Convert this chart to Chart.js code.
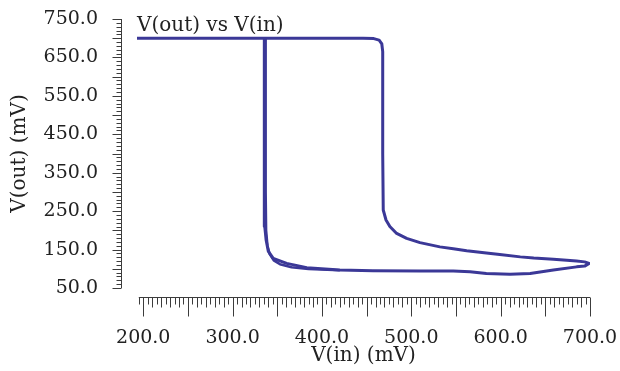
<!DOCTYPE html>
<html>
<head>
<meta charset="utf-8">
<script src="https://cdn.jsdelivr.net/npm/chart.js@4.4.1/dist/chart.umd.min.js"></script>
<style>
  html, body { margin: 0; padding: 0; background: #fff; }
  #wrap { width: 620px; height: 371px; position: relative; }
</style>
</head>
<body>
<div id="wrap"><canvas id="chart"></canvas></div>
<script>
// swept transfer curve (mV)
const vin = [193, 446, 458, 464, 467, 468, 468, 468.6, 471.7, 476, 483.6, 494.8, 509.7, 532, 547, 562, 584, 599, 622, 637, 659, 674, 685, 694, 699,
  694, 685, 659, 633, 610.5, 584, 565.7, 547, 510, 457, 420, 383, 360.5, 345.5, 340, 337.5, 336, 335.5, 335.5];
const vout = [700, 700, 699, 695, 685, 665, 400, 253, 227, 210, 192, 179, 168, 157, 152, 147, 141, 137, 131, 128, 125, 122, 120, 118, 114,
  107, 105, 97, 88, 86, 88, 92.5, 94, 94, 95, 97, 103, 114, 127, 145, 175, 210, 400, 700];

// second pass down the left branch, drawn just beside the first one
const vinBack = [337, 337, 337.5, 339, 341.5, 346, 353, 366, 385, 420];
const voutBack = [700, 300, 200, 160, 138, 122, 112, 104, 99.5, 96.5];

const xTicks = [200, 300, 400, 500, 600, 700];
const yTicks = [50, 150, 250, 350, 450, 550, 650, 750];
const titleText = 'V(out) vs V(in)';

const points = vin.map((x, i) => ({ x: x, y: vout[i] }));
const pointsBack = vinBack.map((x, i) => ({ x: x, y: voutBack[i] }));
const lineColor = '#3b3897';
const textColor = '#222';
const font = { family: '"DejaVu Serif", serif', size: 19 };
const titleFont = { family: '"DejaVu Serif", serif', size: 20 };

// minor tick marks + detached axis lines, placed with the chart's own scales
const axisMarks = {
  id: 'axisMarks',
  afterDraw(chart) {
    const { ctx, chartArea, scales } = chart;
    const xs = scales.x, ys = scales.y;
    ctx.save();
    ctx.strokeStyle = '#3c3c3c';
    ctx.lineWidth = 1;

    // y axis, left of the plot
    const ax = Math.round(chartArea.left - 16) + 0.5;
    ctx.beginPath();
    ctx.moveTo(ax, ys.getPixelForValue(750));
    ctx.lineTo(ax, ys.getPixelForValue(50));
    for (let v = 50; v <= 750; v += 10) {
      const y = Math.round(ys.getPixelForValue(v)) + 0.5;
      const len = v % 50 === 0 ? 9 : 5;
      ctx.moveTo(ax, y);
      ctx.lineTo(ax - len, y);
    }
    ctx.stroke();

    // x axis, below the plot
    const ay = Math.round(chartArea.bottom + 9) + 0.5;
    ctx.beginPath();
    ctx.moveTo(xs.getPixelForValue(195), ay);
    ctx.lineTo(xs.getPixelForValue(700), ay);
    for (let v = 195; v <= 700; v += 5) {
      const x = Math.round(xs.getPixelForValue(v)) + 0.5;
      const len = v % 50 === 0 ? 19 : (v % 10 === 0 ? 10 : 7);
      ctx.moveTo(x, ay);
      ctx.lineTo(x, ay + len);
    }
    ctx.stroke();

    // trace name in the top-left corner of the plot
    ctx.fillStyle = textColor;
    ctx.font = titleFont.size + 'px ' + titleFont.family;
    ctx.textBaseline = 'middle';
    ctx.textAlign = 'left';
    ctx.fillText(titleText, chartArea.left, 26);
    ctx.restore();
  }
};

new Chart(document.getElementById('chart'), {
  type: 'scatter',
  data: {
    datasets: [{
      label: titleText,
      data: points,
      showLine: true,
      borderColor: lineColor,
      borderWidth: 3,
      borderJoinStyle: 'round',
      pointRadius: 0,
      tension: 0,
      fill: false
    }, {
      label: titleText + ' (return)',
      data: pointsBack,
      showLine: true,
      borderColor: lineColor,
      borderWidth: 2.5,
      borderJoinStyle: 'round',
      pointRadius: 0,
      tension: 0,
      fill: false
    }]
  },
  options: {
    responsive: true,
    maintainAspectRatio: false,
    animation: false,
    layout: { padding: { top: 19, right: 30, left: 0, bottom: 0 } },
    plugins: {
      legend: { display: false },
      tooltip: { enabled: false }
    },
    scales: {
      x: {
        type: 'linear',
        min: 193,
        max: 700,
        afterBuildTicks: (s) => { s.ticks = xTicks.map(v => ({ value: v })); },
        afterFit: (s) => { s.height = 83; },
        grid: { display: true, drawOnChartArea: false, drawTicks: true, tickLength: 39, tickColor: 'rgba(0,0,0,0)' },
        border: { display: false },
        ticks: {
          color: textColor,
          font: font,
          padding: 0,
          maxRotation: 0,
          autoSkip: false,
          callback: (v) => Number(v).toFixed(1)
        },
        title: {
          display: true,
          text: 'V(in) (mV)',
          color: textColor,
          font: titleFont,
          padding: { top: 0, bottom: 3 }
        }
      },
      y: {
        type: 'linear',
        min: 50,
        max: 750,
        afterBuildTicks: (s) => { s.ticks = yTicks.map(v => ({ value: v })); },
        afterFit: (s) => { s.width = 137; },
        grid: { display: true, drawOnChartArea: false, drawTicks: true, tickLength: 39, tickColor: 'rgba(0,0,0,0)' },
        border: { display: false },
        ticks: {
          color: textColor,
          font: font,
          padding: 0,
          autoSkip: false,
          callback: (v) => Number(v).toFixed(1)
        },
        title: {
          display: true,
          text: 'V(out) (mV)',
          color: textColor,
          font: titleFont,
          padding: { top: 8, bottom: 0 }
        }
      }
    }
  },
  plugins: [axisMarks]
});
</script>
</body>
</html>
